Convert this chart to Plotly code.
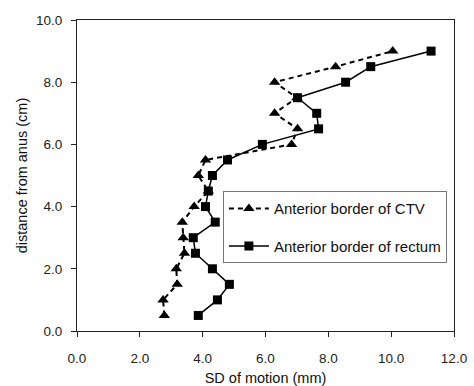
import plotly.graph_objects as go

distance_cm = [0.5, 1.0, 1.5, 2.0, 2.5, 3.0, 3.5, 4.0, 4.5, 5.0, 5.5, 6.0, 6.5, 7.0, 7.5, 8.0, 8.5, 9.0]
sd_ctv = [2.78, 2.74, 3.19, 3.16, 3.42, 3.38, 3.35, 3.73, 4.18, 3.86, 4.09, 6.83, 7.02, 6.29, 7.0, 6.29, 8.23, 10.05]
sd_rectum = [3.86, 4.47, 4.85, 4.31, 3.77, 3.70, 4.40, 4.09, 4.18, 4.31, 4.79, 5.90, 7.69, 7.63, 7.02, 8.55, 9.35, 11.27]

x_ticks = [0, 2, 4, 6, 8, 10, 12]
y_ticks = [0, 2, 4, 6, 8, 10]

font = "Liberation Sans, Arial, sans-serif"

fig = go.Figure()
fig.add_trace(go.Scatter(
    x=sd_ctv, y=distance_cm, mode="lines+markers",
    name="Anterior border of CTV", legendgroup="a",
    line=dict(color="black", width=2, dash="5px,4px"),
    marker=dict(symbol="triangle-up", size=10, color="black"),
))
fig.add_trace(go.Scatter(
    x=sd_rectum, y=distance_cm, mode="lines+markers",
    name="Anterior border of rectum", legendgroup="b",
    line=dict(color="black", width=1.5),
    marker=dict(symbol="square", size=9, color="black"),
))

axis_common = dict(
    showgrid=False, zeroline=False, showline=True, linecolor="#222", linewidth=1,
    mirror=True, ticks="outside", ticklen=5, tickcolor="#222", automargin=False,
    tickfont=dict(family=font, size=13.5, color="#222"),
    title_font=dict(family=font, size=14.5, color="#111"),
)

fig.update_xaxes(range=[0, 12], tickvals=x_ticks, ticktext=[f"{v:.1f}" for v in x_ticks],
                 title_text="SD of motion (mm)", ticklabelstandoff=10, title_standoff=8,
                 **axis_common)
fig.update_yaxes(range=[0, 10], tickvals=y_ticks, ticktext=[f"{v:.1f}" for v in y_ticks],
                 title_text="distance from anus (cm)", ticklabelstandoff=6, title_standoff=4,
                 **axis_common)

fig.update_layout(
    width=474, height=386,
    margin=dict(l=77, r=20, t=20, b=55),
    paper_bgcolor="white", plot_bgcolor="white",
    font=dict(family=font, color="#111"),
    legend=dict(
        x=0.387, y=0.449, xanchor="left", yanchor="top",
        bgcolor="white", bordercolor="#777", borderwidth=1,
        font=dict(family=font, size=15, color="#111"),
        tracegroupgap=15, itemwidth=40,
    ),
)

fig.write_html("out.html")
